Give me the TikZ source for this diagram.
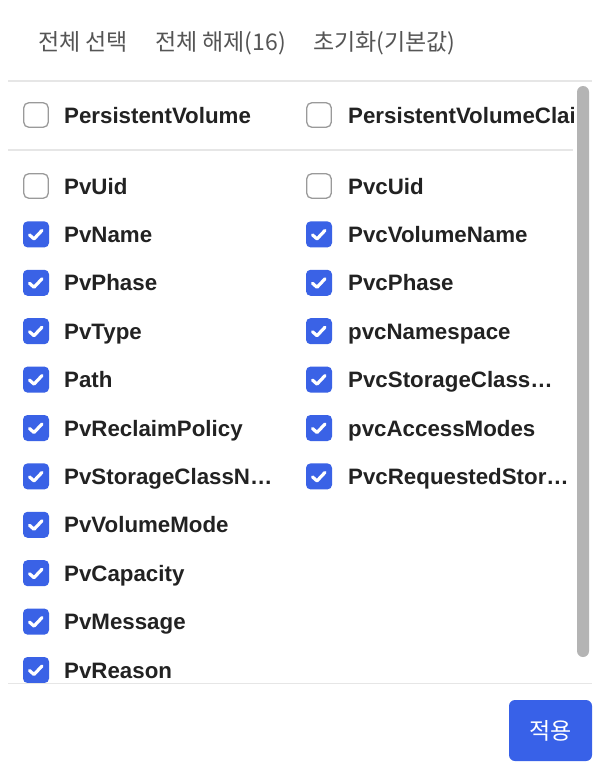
\documentclass[tikz,border=0pt]{standalone}
\usepackage{fontspec}
\setmainfont{Liberation Sans}
\newfontfamily\krfont{Noto Sans CJK KR}
\usetikzlibrary{calc}
\definecolor{txt}{HTML}{222222}
\definecolor{hdr}{HTML}{555555}
\definecolor{chkblue}{HTML}{3A62E6}
\definecolor{btnblue}{HTML}{3861E8}
\definecolor{sepcol}{HTML}{E6E6E6}
\definecolor{boxgray}{HTML}{9A9A9A}
\definecolor{scrollcol}{HTML}{B4B4B4}
\tikzset{
  cbon/.style={rectangle, rounded corners=4.5pt, minimum size=26pt, inner sep=0pt, fill=chkblue},
  cboff/.style={rectangle, rounded corners=5pt, minimum size=24.5pt, inner sep=0pt, fill=white, draw=boxgray, line width=1.3pt},
  tick/.style={draw=white, line width=3.2pt, line cap=round, line join=round},
  lbl/.style={anchor=base west, inner sep=0pt, font=\bfseries\fontsize{22.3}{24}\selectfont, text=txt},
  hdrtxt/.style={anchor=base west, inner sep=0pt, font=\krfont\fontsize{23}{24}\selectfont, text=hdr},
  sepline/.style={draw=sepcol, line width=1.5pt},
}
\begin{document}
\begin{tikzpicture}[x=1pt,y=-1pt]
\useasboundingbox[fill=white] (0,0) rectangle (600,776);
% header
\node[hdrtxt] (h1) at (38,50.5) {전체 선택};
\node[hdrtxt] (h2) at (155,50.5) {전체 해제(16)};
\node[hdrtxt] (h3) at (313,50.5) {초기화(기본값)};
\draw[sepline] (8,81) -- (592,81);
% group row
\node[cboff] (cpv) at (36,115) {};
\node[lbl] (tpv) at (64,123) {PersistentVolume};
\node[cboff] (cpvc) at (319,115) {};
\begin{scope}
  \clip (335,90) rectangle (573,145);
  \node[lbl] (tpvc) at (348,123) {PersistentVolumeClaim};
\end{scope}
\draw[sepline] (8,150) -- (573,150);
% unchecked uid row
\node[cboff] (cuid) at (36,186) {};
\node[lbl] (tuid) at (64,194) {PvUid};
\node[cboff] (cpvcuid) at (319,186) {};
\node[lbl] (tpvcuid) at (348,194) {PvcUid};
% left column checked
\foreach \t [count=\i from 0] in {PvName,PvPhase,PvType,Path,PvReclaimPolicy,PvStorageClassN…,PvVolumeMode,PvCapacity,PvMessage,PvReason}{
  \pgfmathsetmacro\yy{234.4+48.4*\i}
  \node[cbon] (L\i) at (36,\yy) {};
  \draw[tick] ($(L\i)+(-6.5,0.5)$) -- ($(L\i)+(-2,4.5)$) -- ($(L\i)+(6,-4)$);
  \node[lbl] (LT\i) at (64,\yy+8) {\t};
}
% right column checked
\foreach \t [count=\i from 0] in {PvcVolumeName,PvcPhase,pvcNamespace,PvcStorageClass…,pvcAccessModes,PvcRequestedStor…}{
  \pgfmathsetmacro\yy{234.4+48.4*\i}
  \node[cbon] (R\i) at (319,\yy) {};
  \draw[tick] ($(R\i)+(-6.5,0.5)$) -- ($(R\i)+(-2,4.5)$) -- ($(R\i)+(6,-4)$);
  \node[lbl] (RT\i) at (348,\yy+8) {\t};
}
% scrollbar
\node[fill=scrollcol, rounded corners=6pt, minimum width=12pt, minimum height=571pt, inner sep=0pt] (sb) at (583,371.5) {};
% footer
\draw[sepline] (8,683.5) -- (592,683.5);
\node[fill=btnblue, rounded corners=6pt, minimum width=83pt, minimum height=61pt, inner sep=0pt, text=white, font=\krfont\fontsize{23}{24}\selectfont] (apply) at (550.5,730.5) {적용};
\end{tikzpicture}
\end{document}
